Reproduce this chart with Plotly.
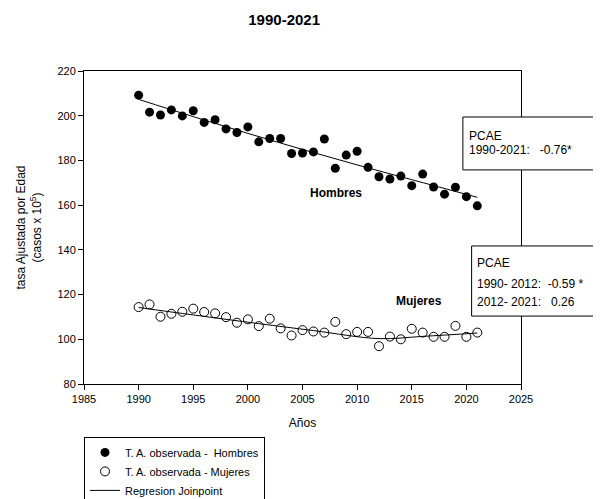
import plotly.graph_objects as go

years = list(range(1990, 2022))
hombres = [209.2, 201.6, 200.3, 202.6, 199.9, 202.2, 197.0, 198.2, 194.1, 192.5,
           195.0, 188.3, 189.8, 189.8, 183.1, 183.3, 183.8, 189.6, 176.5, 182.4,
           184.1, 176.9, 172.7, 171.7, 173.0, 168.7, 173.9, 168.1, 164.9, 168.0,
           163.8, 159.7]
mujeres = [114.4, 115.6, 110.1, 111.4, 112.3, 113.7, 112.2, 111.6, 109.9, 107.4,
           108.9, 105.9, 109.2, 104.9, 101.7, 104.1, 103.5, 103.0, 107.8, 102.3,
           103.3, 103.3, 96.9, 101.2, 100.0, 104.7, 103.0, 101.1, 101.1, 106.0,
           101.1, 103.0]

# Joinpoint regression fits
fit_h_years = [1990, 1995, 2000, 2005, 2010, 2015, 2021]
fit_h_vals = [207.3, 199.6, 192.1, 184.9, 178.0, 171.4, 163.5]
fit_m_years = [1990, 1995, 2001, 2006, 2012, 2016, 2021]
fit_m_vals = [114.2, 110.9, 107.0, 103.9, 100.3, 101.3, 102.8]

x_ticks = [1985, 1990, 1995, 2000, 2005, 2010, 2015, 2020, 2025]
y_ticks = [80, 100, 120, 140, 160, 180, 200, 220]

FONT = "Liberation Sans, Arial, sans-serif"
NB = "\u00a0"

fig = go.Figure()
fig.add_trace(go.Scatter(
    x=years, y=hombres, mode="markers",
    name="T. A. observada -" + NB + NB + "Hombres",
    marker=dict(symbol="circle", size=9, color="black"),
))
fig.add_trace(go.Scatter(
    x=years, y=mujeres, mode="markers",
    name="T. A. observada - Mujeres",
    marker=dict(symbol="circle-open", size=9, color="black", line=dict(width=1)),
))
fig.add_trace(go.Scatter(
    x=fit_h_years, y=fit_h_vals, mode="lines", line_shape="spline",
    name="Regresion Joinpoint", legendgroup="fit",
    line=dict(color="black", width=1),
))
fig.add_trace(go.Scatter(
    x=fit_m_years, y=fit_m_vals, mode="lines", line_shape="spline",
    name="Regresion Joinpoint", legendgroup="fit", showlegend=False,
    line=dict(color="black", width=1),
))

axis_common = dict(
    showgrid=False, zeroline=False, showline=True, linecolor="black", linewidth=1,
    mirror=True, ticks="outside", ticklen=5, tickcolor="black", automargin=False,
    tickfont=dict(family=FONT, size=11, color="black"),
)

fig.update_xaxes(range=[1985, 2025], tickvals=x_ticks,
                 title=dict(text="Años", font=dict(family=FONT, size=12, color="black"), standoff=14),
                 **axis_common)
fig.update_yaxes(range=[80, 220], tickvals=y_ticks,
                 title=dict(text="tasa Ajustada por Edad<br>(casos x 10<sup>5</sup>)",
                            font=dict(family=FONT, size=12, color="black"), standoff=13),
                 **axis_common)

shapes = [
    dict(type="rect", xref="paper", yref="paper", x0=0.867, x1=1.3, y0=0.684, y1=0.853,
         fillcolor="white", line=dict(color="black", width=1), layer="above"),
    dict(type="rect", xref="paper", yref="paper", x0=0.887, x1=1.3, y0=0.217, y1=0.441,
         fillcolor="white", line=dict(color="black", width=1), layer="above"),
]

def note(text, xp, yp, size=12, bold=False, xref="paper", yref="paper", xanchor="left"):
    if bold:
        text = "<b>" + text + "</b>"
    return dict(text=text, x=xp, y=yp, xref=xref, yref=yref, xanchor=xanchor, yanchor="middle",
                showarrow=False, font=dict(family=FONT, size=size, color="black"))

annotations = [
    note("PCAE", 0.876, 0.793, size=12),
    note("1990-2021:" + NB * 3 + "-0.76*", 0.876, 0.748, size=12),
    note("PCAE", 0.894, 0.386, size=12),
    note("1990- 2012:" + NB * 2 + "-0.59 *", 0.894, 0.319, size=12),
    note("2012- 2021:" + NB * 3 + "0.26", 0.894, 0.261, size=12),
    note("Hombres", 2008.1, 165.3, size=12, bold=True, xref="x", yref="y", xanchor="center"),
    note("Mujeres", 2015.7, 117.2, size=12, bold=True, xref="x", yref="y", xanchor="center"),
]

# the page body adds an 8px offset, so margins are shifted to compensate
fig.update_layout(
    width=601, height=499,
    margin=dict(l=76, r=88, t=63, b=123, autoexpand=False),
    paper_bgcolor="white", plot_bgcolor="white",
    title=dict(text="<b>1990-2021</b>", x=0.458, xref="paper", xanchor="center",
               y=0.976, yref="container", yanchor="middle",
               font=dict(family=FONT, size=15, color="black")),
    showlegend=True,
    legend=dict(x=0.0, y=-0.169, xref="paper", yref="paper", xanchor="left", yanchor="top",
                bgcolor="white", bordercolor="black", borderwidth=1,
                font=dict(family=FONT, size=11, color="black"),
                traceorder="normal", tracegroupgap=0, itemwidth=30),
    shapes=shapes,
    annotations=annotations,
)

fig.write_html("out.html")
